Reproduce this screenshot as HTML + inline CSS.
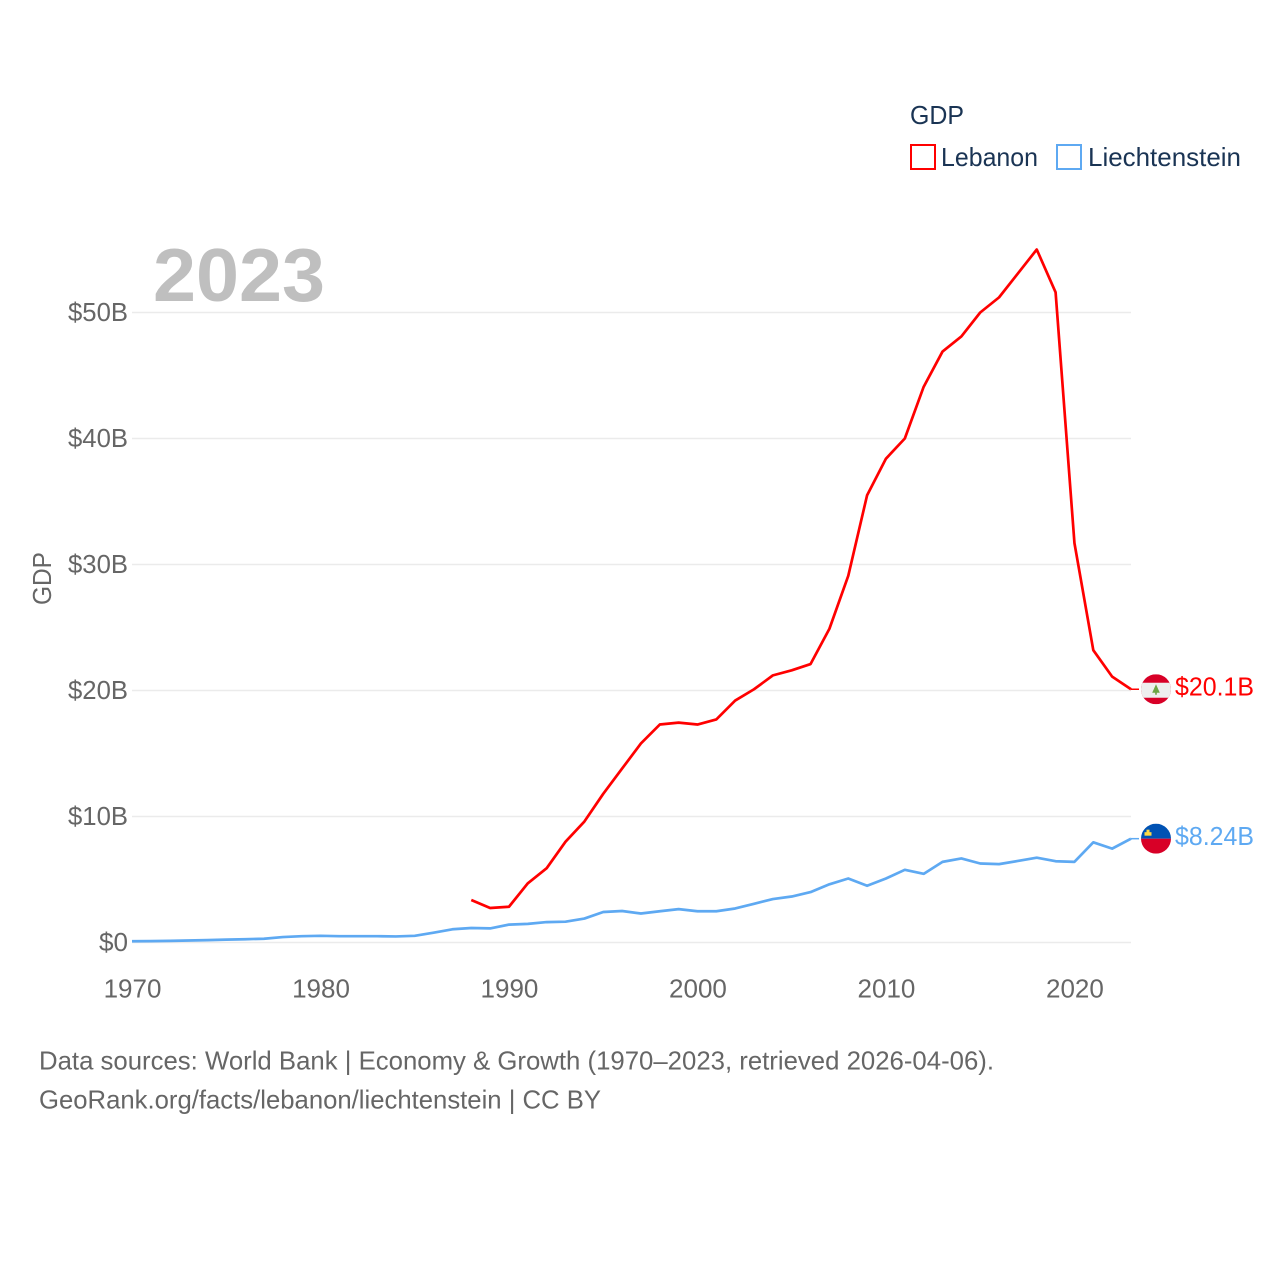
<!DOCTYPE html>
<html lang="en">
<head>
<meta charset="utf-8">
<title>GDP: Lebanon and Liechtenstein</title>
<style>
html,body{margin:0;padding:0;background:#fff;}
svg{display:block;}
text{font-family:"Liberation Sans",sans-serif;}
</style>
</head>
<body>
<svg id="chart" width="1280" height="1280" viewBox="0 0 1280 1280" xmlns="http://www.w3.org/2000/svg">
  <defs>
    <clipPath id="flag-clip"><circle cx="0" cy="0" r="15"></circle></clipPath>
  </defs>
  <rect x="0" y="0" width="1280" height="1280" fill="#ffffff"></rect>
  <g id="grid"></g>
  <g id="y-ticks"></g>
  <g id="x-ticks"></g>
  <text x="153" y="301" font-size="75" font-weight="700" fill="#bfbfbf" textLength="172" lengthAdjust="spacingAndGlyphs">2023</text>
  <text transform="translate(51,578.5) rotate(-90)" text-anchor="middle" font-size="26" fill="#666666" textLength="53" lengthAdjust="spacingAndGlyphs">GDP</text>
  <g id="series"></g>
  <g id="end-labels"></g>

  <g>
    <text x="910" y="124" font-size="26" fill="#1a3454" textLength="54" lengthAdjust="spacingAndGlyphs">GDP</text>
    <g>
      <rect x="911" y="145" width="24" height="24" fill="none" stroke="#ff0000" stroke-width="2"></rect>
      <text x="941" y="166" font-size="26" fill="#1a3454" textLength="97" lengthAdjust="spacingAndGlyphs">Lebanon</text>
    </g>
    <g>
      <rect x="1057" y="145" width="24" height="24" fill="none" stroke="#5ea9f2" stroke-width="2"></rect>
      <text x="1088" y="166" font-size="26" fill="#1a3454" textLength="153" lengthAdjust="spacingAndGlyphs">Liechtenstein</text>
    </g>
  </g>

  <text x="39" y="1069.5" font-size="26" fill="#666666" textLength="955" lengthAdjust="spacingAndGlyphs">Data sources: World Bank | Economy &amp; Growth (1970–2023, retrieved 2026-04-06).</text>
  <text x="39" y="1108.5" font-size="26" fill="#666666" textLength="562" lengthAdjust="spacingAndGlyphs">GeoRank.org/facts/lebanon/liechtenstein | CC BY</text>
</svg>
<script>
// Chart data (billions of US dollars)
const years = [1970,1971,1972,1973,1974,1975,1976,1977,1978,1979,1980,1981,1982,1983,1984,1985,1986,1987,1988,1989,1990,1991,1992,1993,1994,1995,1996,1997,1998,1999,2000,2001,2002,2003,2004,2005,2006,2007,2008,2009,2010,2011,2012,2013,2014,2015,2016,2017,2018,2019,2020,2021,2022,2023];
const lebanonValues = [null,null,null,null,null,null,null,null,null,null,null,null,null,null,null,null,null,null,3.37,2.74,2.84,4.7,5.9,8.0,9.6,11.8,13.8,15.8,17.3,17.45,17.3,17.7,19.2,20.1,21.2,21.6,22.1,24.9,29.1,35.5,38.4,40.0,44.1,46.9,48.1,50.0,51.2,53.1,55.0,51.6,31.7,23.2,21.1,20.1];
const liechtensteinValues = [0.1,0.11,0.13,0.16,0.19,0.23,0.26,0.3,0.43,0.5,0.53,0.5,0.5,0.5,0.48,0.53,0.78,1.05,1.15,1.12,1.42,1.48,1.62,1.65,1.9,2.42,2.5,2.3,2.48,2.65,2.48,2.48,2.7,3.07,3.45,3.65,4.0,4.62,5.08,4.5,5.08,5.77,5.45,6.4,6.67,6.27,6.22,6.47,6.73,6.45,6.4,7.95,7.45,8.24];
const yTickValues = [0,10,20,30,40,50];
const yTickLabels = ["$0","$10B","$20B","$30B","$40B","$50B"];
const xTickValues = [1970,1980,1990,2000,2010,2020];
const xTickLabels = ["1970","1980","1990","2000","2010","2020"];
const lebanonEndLabel = "$20.1B";
const liechtensteinEndLabel = "$8.24B";

const NS = "http://www.w3.org/2000/svg";
const plotLeft = 132, plotRight = 1131, plotBottom = 942.5, pxPerBillion = 12.6;
const xScale = function (year) {
  return plotLeft + (year - years[0]) * (plotRight - plotLeft) / (years[years.length - 1] - years[0]);
};
const yScale = function (value) {
  return plotBottom - value * pxPerBillion;
};
const make = function (tag, attrs, parent) {
  const el = document.createElementNS(NS, tag);
  Object.keys(attrs).forEach(function (k) { el.setAttribute(k, attrs[k]); });
  parent.appendChild(el);
  return el;
};

const grid = document.getElementById("grid");
const yTicks = document.getElementById("y-ticks");
const xTicks = document.getElementById("x-ticks");
const seriesLayer = document.getElementById("series");
const endLabels = document.getElementById("end-labels");

yTickValues.forEach(function (v, i) {
  const line = make("line", {x1: plotLeft, x2: plotRight, y1: yScale(v), y2: yScale(v), stroke: "#ebebeb", "stroke-width": 1.5}, grid);
  
  
  const label = make("text", {x: 128, y: yScale(v) + 8.5, "text-anchor": "end", "font-size": 26, fill: "#666666", textLength: yTickLabels[i].length > 2 ? 60 : 29, lengthAdjust: "spacingAndGlyphs"}, yTicks);
  
  
  label.textContent = yTickLabels[i];
});

xTickValues.forEach(function (v, i) {
  const label = make("text", {x: xScale(v) + 0.5, y: 997.5, "text-anchor": "middle", "font-size": 26, fill: "#666666"}, xTicks);
  
  
  label.textContent = xTickLabels[i];
});

const linePath = function (values) {
  let d = "";
  values.forEach(function (v, i) {
    if (v === null) return;
    d += (d === "" ? "M" : "L") + xScale(years[i]).toFixed(2) + " " + yScale(v).toFixed(2);
  });
  return d;
};

const lebanonLine = make("path", {d: linePath(lebanonValues), fill: "none", stroke: "#ff0000", "stroke-width": 2.7, "stroke-linejoin": "round"}, seriesLayer);


const liechtensteinLine = make("path", {d: linePath(liechtensteinValues), fill: "none", stroke: "#5ea9f2", "stroke-width": 2.7, "stroke-linejoin": "round"}, seriesLayer);



// Lebanon end marker
const lebY = yScale(lebanonValues[lebanonValues.length - 1]);
const lebConnector = make("line", {x1: plotRight, x2: 1139, y1: lebY, y2: lebY, stroke: "#ff0000", "stroke-width": 1.5}, endLabels);


const lebFlag = make("g", {transform: "translate(1156," + lebY + ")", "clip-path": "url(#flag-clip)"}, endLabels);


make("rect", {x: -15, y: -15, width: 30, height: 30, fill: "#d80027"}, lebFlag);
make("rect", {x: -15, y: -6.5, width: 30, height: 15, fill: "#eeeeee"}, lebFlag);
make("polygon", {points: "0,-5 3.8,3.5 -3.8,3.5", fill: "#6da544"}, lebFlag);
make("rect", {x: -0.8, y: 3, width: 1.6, height: 2.5, fill: "#6da544"}, lebFlag);
const lebLabel = make("text", {x: 1175, y: lebY + 6.5, "font-size": 26, fill: "#ff0000", textLength: 79, lengthAdjust: "spacingAndGlyphs"}, endLabels);


lebLabel.textContent = lebanonEndLabel;

// Liechtenstein end marker
const lieY = yScale(liechtensteinValues[liechtensteinValues.length - 1]);
const lieConnector = make("line", {x1: plotRight, x2: 1139, y1: lieY, y2: lieY, stroke: "#5ea9f2", "stroke-width": 1.5}, endLabels);


const lieFlag = make("g", {transform: "translate(1156," + lieY + ")", "clip-path": "url(#flag-clip)"}, endLabels);


make("rect", {x: -15, y: -15, width: 30, height: 15, fill: "#0052b4"}, lieFlag);
make("rect", {x: -15, y: 0, width: 30, height: 15, fill: "#d80027"}, lieFlag);
make("rect", {x: -11.5, y: -6.5, width: 7, height: 3.5, fill: "#ffda44"}, lieFlag);
make("rect", {x: -9.5, y: -9, width: 3, height: 3, fill: "#ffda44"}, lieFlag);
const lieLabel = make("text", {x: 1175, y: lieY + 6.5, "font-size": 26, fill: "#5ea9f2", textLength: 79, lengthAdjust: "spacingAndGlyphs"}, endLabels);


lieLabel.textContent = liechtensteinEndLabel;
</script>
</body>
</html>
